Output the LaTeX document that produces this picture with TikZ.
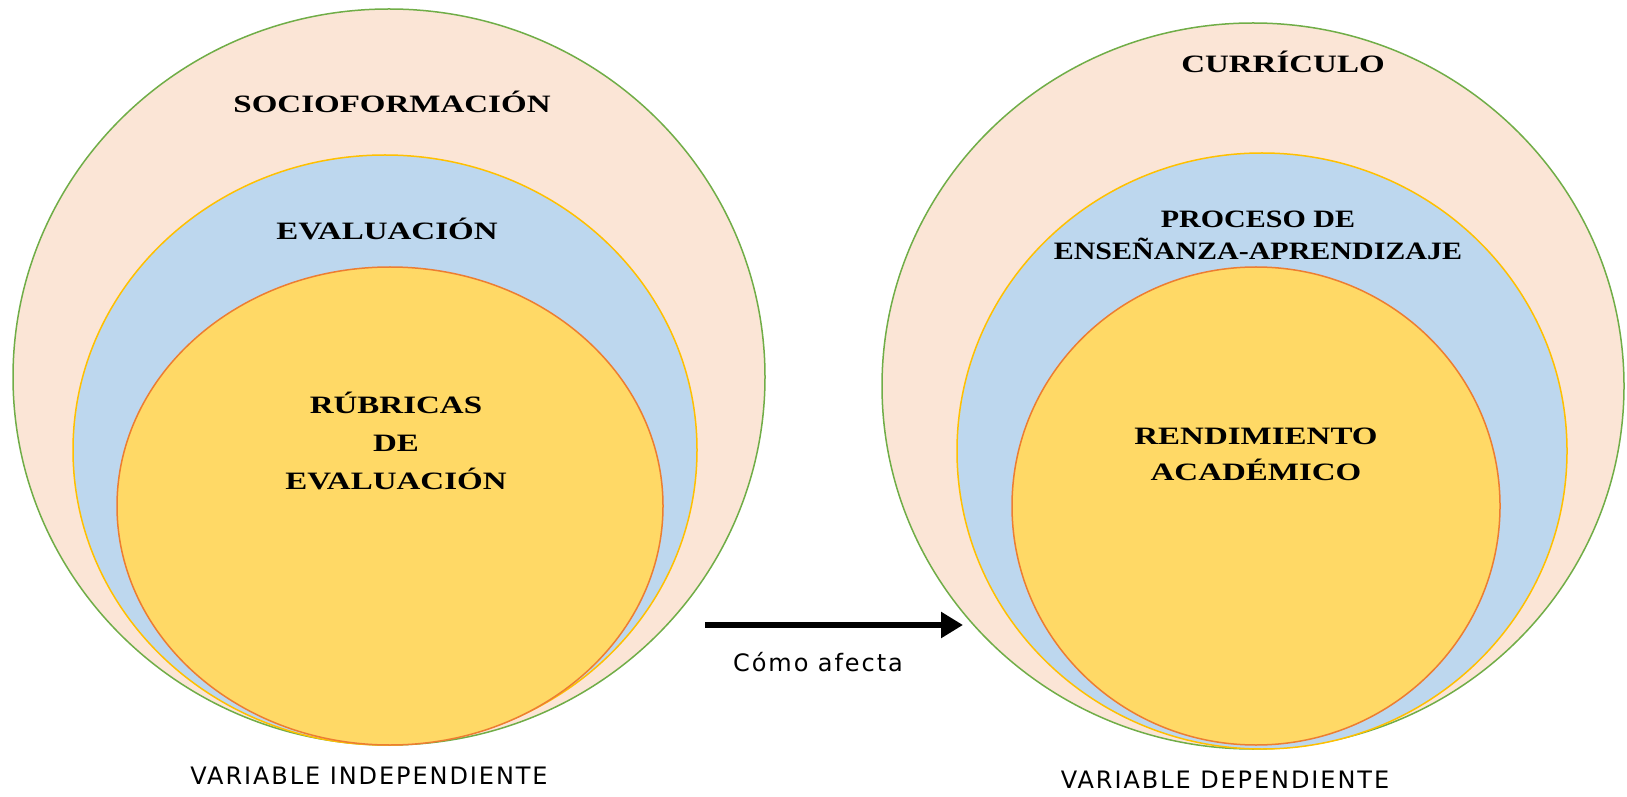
\documentclass[tikz,border=0pt]{standalone}
\usepackage{fontspec}
\setmainfont{Liberation Serif}
\newfontfamily\titulofont{Liberation Serif}[FakeStretch=1.32]
\newfontfamily\angostofont{Liberation Serif}[FakeStretch=1.2]
\newfontfamily\etiquetafont{DejaVu Sans}[LetterSpace=8]
\usepackage{xcolor}
\usetikzlibrary{arrows.meta, positioning}

\definecolor{durazno}{HTML}{FBE5D6}
\definecolor{verde}{HTML}{70AD47}
\definecolor{celeste}{HTML}{BDD7EE}
\definecolor{oro}{HTML}{FFC000}
\definecolor{amarillo}{HTML}{FFD966}
\definecolor{naranja}{HTML}{ED7D31}

\tikzset{
	externo/.style={fill=durazno, draw=verde, line width=1.5pt},
	medio/.style={fill=celeste, draw=oro, line width=1.5pt},
	interno/.style={fill=amarillo, draw=naranja, line width=1.5pt},
	titulo/.style={font=\titulofont\bfseries\fontsize{25}{36}\selectfont, align=center, inner sep=0pt},
	etiqueta/.style={font=\etiquetafont\fontsize{24}{28}\selectfont, inner sep=0pt},
	flecha/.style={line width=5.5pt, -{Triangle[length=22pt, width=25pt]}}
}

\begin{document}
\begin{tikzpicture}[x=1pt, y=1pt]
	\useasboundingbox (0,0) rectangle (1627,796);
	\draw [externo] (389,419) ellipse [x radius=376pt, y radius=368pt];
	\draw [medio] (385,346) ellipse [x radius=312pt, y radius=295pt];
	\draw [interno] (390,290) ellipse [x radius=273pt, y radius=239pt];
	\draw [externo] (1253,410) ellipse [x radius=371pt, y radius=363pt];
	\draw [medio] (1262,345) ellipse [x radius=305pt, y radius=298pt];
	\draw [interno] (1256,290) ellipse [x radius=244pt, y radius=239pt];

	\node [titulo] (socio) at (392,694) {SOCIOFORMACIÓN};
	\node [titulo] (evaluacion) at (387,567) {EVALUACIÓN};
	\node [titulo, text height=17pt, text depth=0pt] (rubricas) at (396,315) {RÚBRICAS\\[2pt] DE\\[2pt] EVALUACIÓN};
	\node [titulo] (curriculo) at (1283,734) {CURRÍCULO};
	\node [titulo, font=\angostofont\bfseries\fontsize{25}{36}\selectfont] (proceso) at (1258,561) {PROCESO DE\\[-4pt] ENSEÑANZA-APRENDIZAJE};
	\node [titulo] (rendimiento) at (1256,342) {RENDIMIENTO\\ ACADÉMICO};

	\coordinate (inicio) at (705,171);
	\coordinate (fin) at (963,171);
	\draw [flecha] (inicio) -- (fin);
	\node [etiqueta] (afecta) at (818,134) {Cómo afecta};

	\node [etiqueta] (independiente) at (369,20) {VARIABLE INDEPENDIENTE};
	\node [etiqueta] (dependiente) at (1225,16) {VARIABLE DEPENDIENTE};
\end{tikzpicture}
\end{document}
